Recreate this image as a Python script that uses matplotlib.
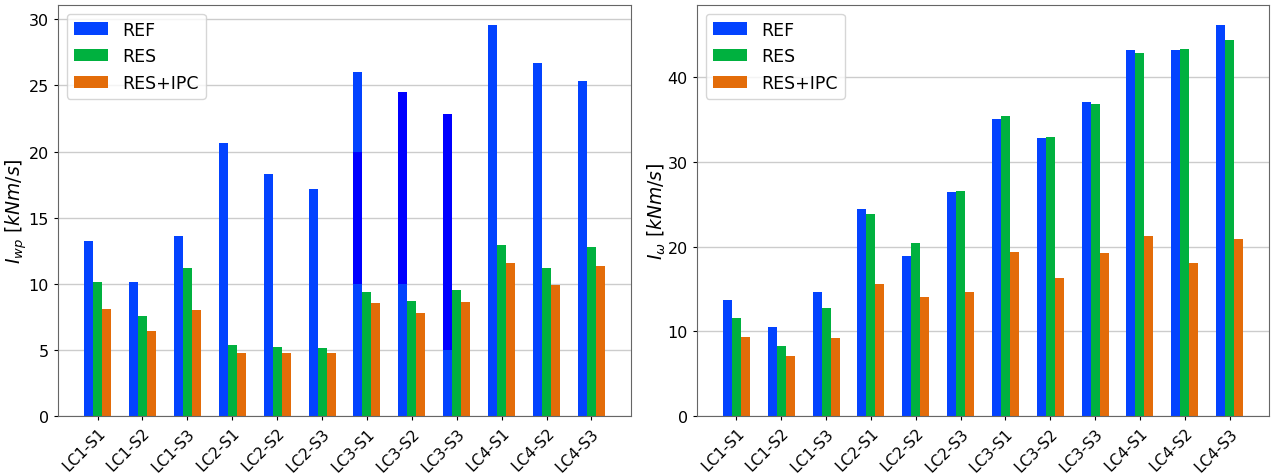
import numpy as np
import matplotlib.pyplot as plt

CASES = ['LC1-S1', 'LC1-S2', 'LC1-S3', 'LC2-S1', 'LC2-S2', 'LC2-S3',
         'LC3-S1', 'LC3-S2', 'LC3-S3', 'LC4-S1', 'LC4-S2', 'LC4-S3']

# left panel: I_wp
wp_ref = [13.2, 10.1, 13.6, 20.65, 18.3, 17.2, 26.0, 24.5, 22.85, 29.6, 26.7, 25.3]
wp_res = [10.1, 7.55, 11.2, 5.4, 5.25, 5.15, 9.4, 8.7, 9.5, 12.9, 11.2, 12.8]
wp_ipc = [8.1, 6.45, 8.0, 4.8, 4.8, 4.75, 8.55, 7.8, 8.6, 11.6, 9.9, 11.35]

# darker patches on some REF bars in the original picture
dark_idx = [6, 7, 8]
dark_lo = [10, 10, 5]
dark_hi = [20, 24.5, 22.85]

# right panel: I_omega
om_ref = [13.65, 10.45, 14.65, 24.4, 18.9, 26.4, 35.1, 32.8, 37.1, 43.15, 43.15, 46.2]
om_res = [11.55, 8.3, 12.75, 23.85, 20.4, 26.6, 35.4, 32.9, 36.8, 42.8, 43.35, 44.35]
om_ipc = [9.35, 7.05, 9.15, 15.6, 14.0, 14.65, 19.35, 16.3, 19.25, 21.25, 18.05, 20.9]

C_REF = '#0343ff'
C_DARK = '#0000ff'
C_RES = '#00b13f'
C_IPC = '#e36c09'
W = 0.2


def bars(ax, ref, res, ipc):
    """Draws the three grouped bar series"""
    x = np.arange(len(CASES))
    ax.bar(x - W, ref, W, color=C_REF, label='REF')
    ax.bar(x, res, W, color=C_RES, label='RES')
    ax.bar(x + W, ipc, W, color=C_IPC, label='RES+IPC')
    ax.set_xticks(x)
    ax.set_xticklabels(CASES, rotation=45, ha='right', rotation_mode='anchor', fontsize=11)
    ax.tick_params(axis='y', labelsize=11.5)
    ax.tick_params(axis='both', length=3)
    ax.grid(True, axis='y', color='#cccccc', linewidth=1)
    ax.set_axisbelow(True)
    for s in ax.spines.values():
        s.set_color('#666666')
    ax.legend(loc='upper left', fontsize=12.5, handlelength=2.0)
    return x


fig = plt.figure(figsize=(12.71, 4.77), dpi=100)
ax1 = fig.add_axes([58 / 1271, 60 / 477, 573 / 1271, 411 / 477])
ax2 = fig.add_axes([697 / 1271, 60 / 477, 572 / 1271, 411 / 477])

x = bars(ax1, wp_ref, wp_res, wp_ipc)
lo = np.array(dark_lo)
hi = np.array(dark_hi)
ax1.bar(x[dark_idx] - W, hi - lo, W, bottom=lo, color=C_DARK)
ax1.set_ylabel(r'$I_{wp}\ [kNm/s]$', fontsize=13.5, labelpad=0)

bars(ax2, om_ref, om_res, om_ipc)
ax2.set_ylabel(r'$I_{\omega}\ [kNm/s]$', fontsize=13.5, labelpad=0)

fig.savefig('out.png', dpi=100)
